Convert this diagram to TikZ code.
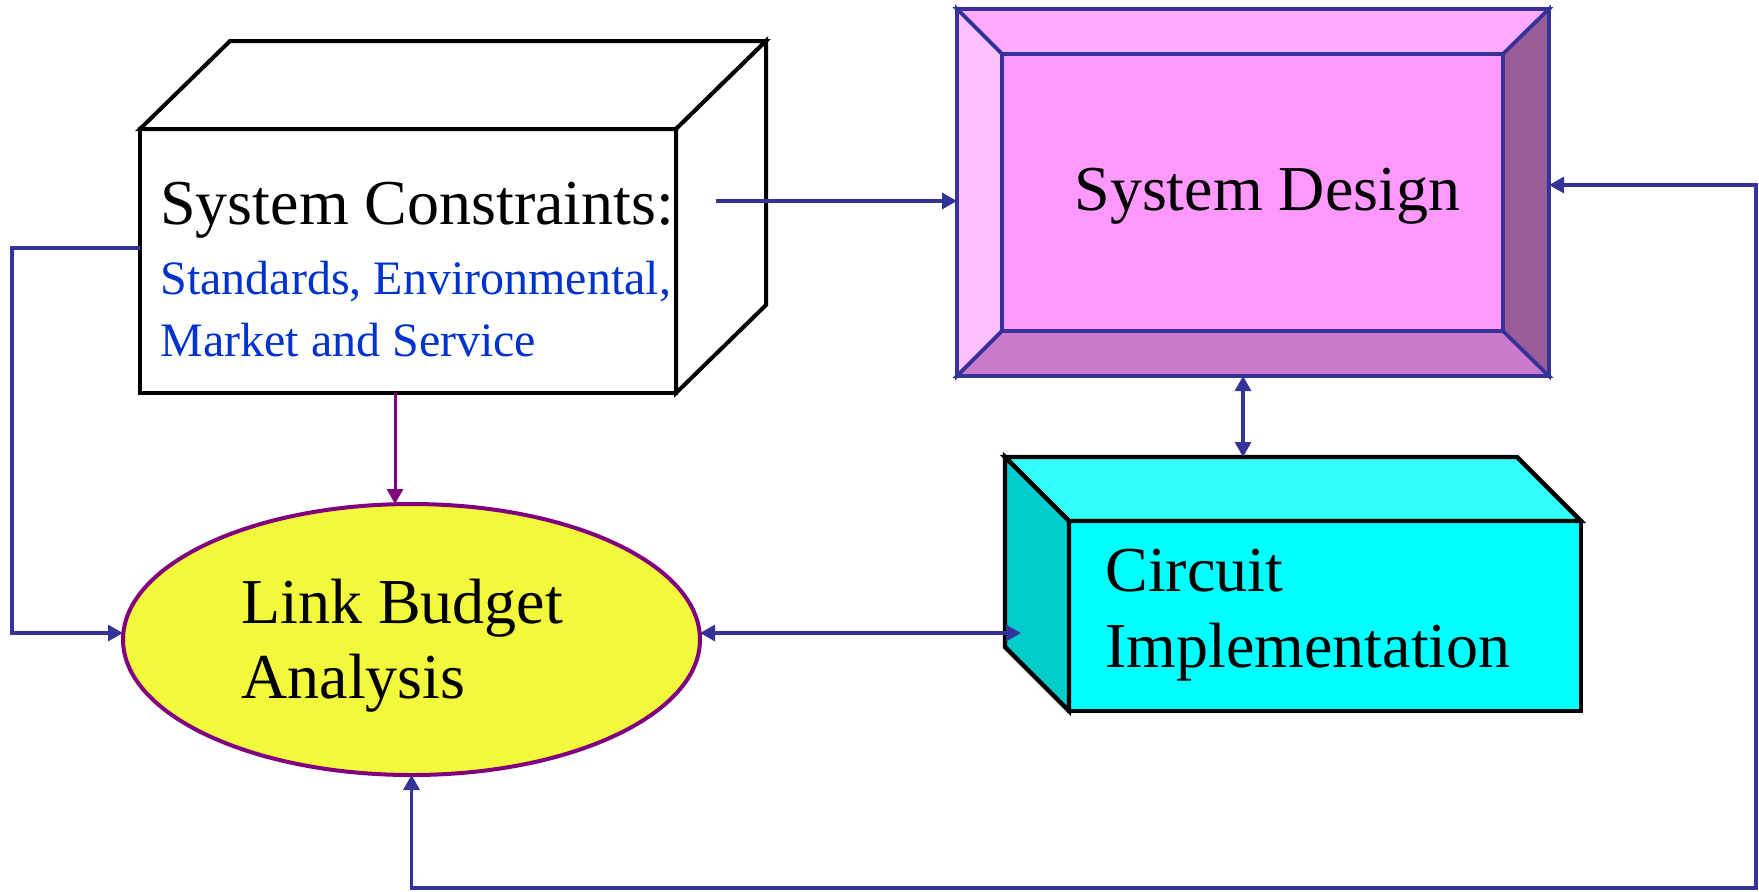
\documentclass[tikz,border=0pt]{standalone}
\usepackage{fontspec}
\setmainfont{Liberation Serif}
\usetikzlibrary{arrows.meta,calc,shapes.geometric}

\definecolor{linkblue}{HTML}{333399}
\definecolor{linkpurple}{HTML}{800080}
\definecolor{noteblue}{HTML}{0033CC}
\definecolor{budgetyellow}{HTML}{F2F83C}
\definecolor{sdface}{HTML}{FF99FF}
\definecolor{sdtop}{HTML}{FFAAFF}
\definecolor{sdleft}{HTML}{FFC0FF}
\definecolor{sdbottom}{HTML}{CC7ACC}
\definecolor{sdright}{HTML}{995C99}
\definecolor{cifront}{HTML}{00FFFF}
\definecolor{citop}{HTML}{33FFFF}
\definecolor{ciside}{HTML}{00CCCC}

\tikzset{
  boxface/.style={rectangle, inner sep=0pt, outer sep=0pt},
  conn/.style={draw=linkblue, line width=1.6pt},
  pconn/.style={draw=linkpurple, line width=1.5pt},
  tip/.style={-{Triangle[length=7.5pt,width=8pt]}},
  tips/.style={{Triangle[length=7.5pt,width=8pt]}-{Triangle[length=7.5pt,width=8pt]}},
  bigtext/.style={inner sep=0pt, anchor=base west, font=\fontsize{32}{38}\selectfont},
  notetext/.style={inner sep=0pt, anchor=base west, text=noteblue, font=\fontsize{24}{30}\selectfont},
}

\begin{document}
\begin{tikzpicture}[x=0.5pt, y=-0.5pt, line join=miter]
\useasboundingbox (0,0) rectangle (1759,891);

% ---- System constraints: white box with top and right faces
\node[boxface, draw=black, fill=white, line width=2pt,
      minimum width=268pt, minimum height=132pt] (sc) at (408,261) {};
\draw[black, line width=2pt, fill=white]
  (sc.north west) -- ++(90,-88) -- ++(536,0) -- (sc.north east) -- cycle;
\draw[black, line width=2pt, fill=white]
  (sc.north east) -- ++(90,-88) -- ++(0,264) -- (sc.south east) -- cycle;
\node[bigtext] (sctitle) at (160,224) {System Constraints:};
\node[notetext] (scnote1) at (160,294) {Standards, Environmental,};
\node[notetext] (scnote2) at (160,356) {Market and Service};

% ---- System design: bevelled frame
\node[boxface, draw=linkblue, fill=sdtop, line width=1.8pt,
      minimum width=296pt, minimum height=183.5pt] (sd) at (1253,192.5) {};
\node[boxface, draw=linkblue, fill=sdface, line width=1.8pt,
      minimum width=250.5pt, minimum height=138.5pt] (sdin) at (1252.5,192.5) {};
\draw[linkblue, line width=1.8pt, fill=sdtop]
  (sd.north west) -- (sd.north east) -- (sdin.north east) -- (sdin.north west) -- cycle;
\draw[linkblue, line width=1.8pt, fill=sdleft]
  (sd.north west) -- (sdin.north west) -- (sdin.south west) -- (sd.south west) -- cycle;
\draw[linkblue, line width=1.8pt, fill=sdbottom]
  (sd.south west) -- (sdin.south west) -- (sdin.south east) -- (sd.south east) -- cycle;
\draw[linkblue, line width=1.8pt, fill=sdright]
  (sd.north east) -- (sdin.north east) -- (sdin.south east) -- (sd.south east) -- cycle;
\node[bigtext] (sdtitle) at (1074,210) {System Design};

% ---- Circuit implementation: cyan box with top and left faces
\node[boxface, draw=black, fill=cifront, line width=2.2pt,
      minimum width=256pt, minimum height=95pt] (ci) at (1325,616) {};
\draw[black, line width=2.2pt, fill=citop]
  (ci.north west) -- ++(-64,-64) -- ++(512,0) -- (ci.north east) -- cycle;
\draw[black, line width=2.2pt, fill=ciside]
  (ci.north west) -- ++(-64,-64) -- ++(0,190) -- (ci.south west) -- cycle;
\node[bigtext] (cit1) at (1105,591) {Circuit};
\node[bigtext] (cit2) at (1105,667) {Implementation};

% ---- Link budget analysis: ellipse
\node[ellipse, inner sep=0pt, outer sep=0pt, draw=linkpurple, fill=budgetyellow,
      line width=2pt, minimum width=288.5pt, minimum height=135.5pt] (lb) at (411.5,639.5) {};
\node[bigtext] (lbt1) at (241,623) {Link Budget};
\node[bigtext] (lbt2) at (241,698) {Analysis};

% ---- connector end points
\coordinate (scout) at (716,201);
\coordinate (scleft) at (140,248);
\coordinate (leftrail) at (12,633);
\coordinate (scbot) at ($(sc.south)+(-13,0)$);
\coordinate (sdbot) at (1243,376);
\coordinate (citop) at (1243,457);
\coordinate (ciin) at (1021,633);
\coordinate (sdright) at (1549,185);
\coordinate (rail) at (1756,888);

% ---- connectors
\draw[conn, tip] (scout) -- (scout -| sd.west);
\draw[conn, tip] (scleft) -| (leftrail) -- (leftrail -| lb.west);
\draw[pconn, tip] (scbot) -- (scbot |- lb.north);
\draw[conn, tips] (sdbot) -- (citop);
\draw[conn, tips] (ciin -| lb.east) -- (ciin);
\draw[conn, tips] (lb.south) |- (rail) |- (sdright);
\end{tikzpicture}
\end{document}
